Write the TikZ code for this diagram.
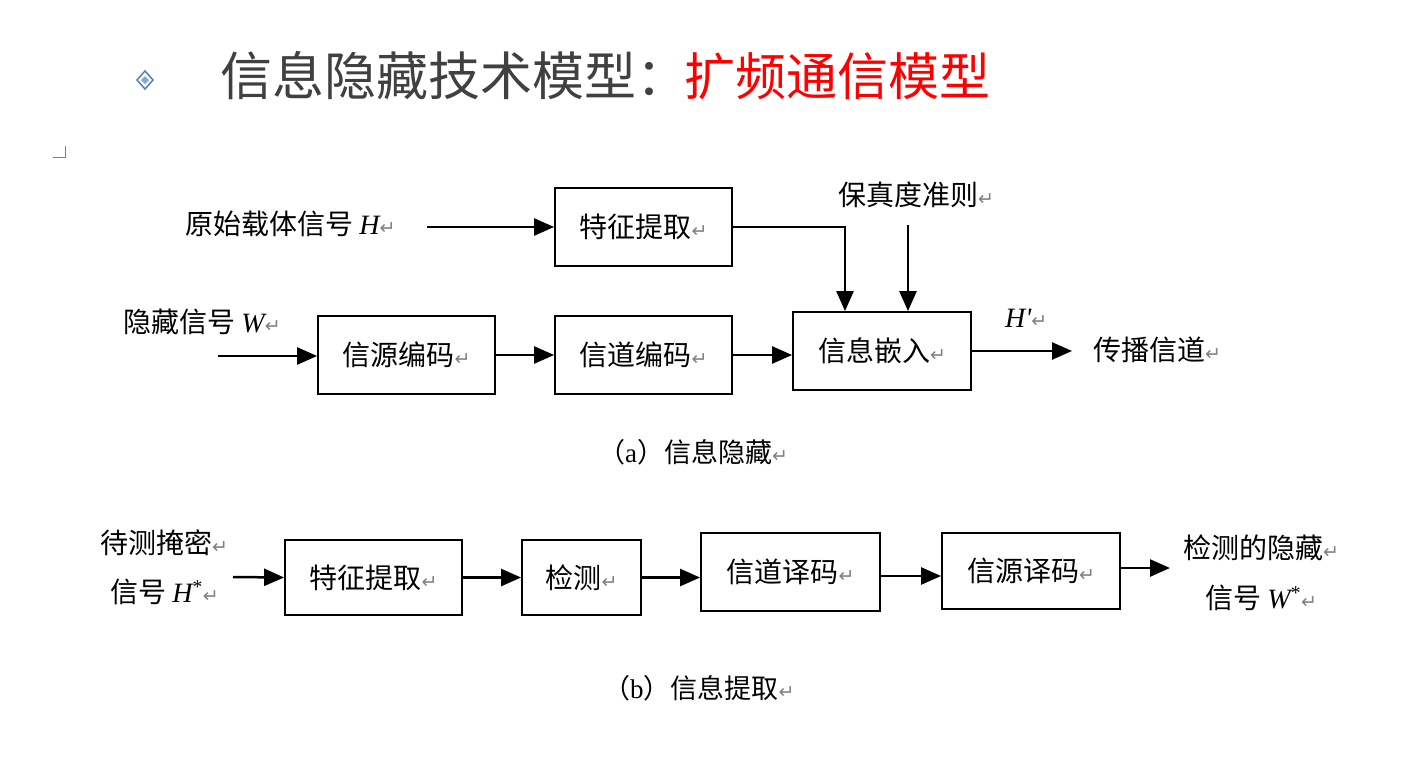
\documentclass[tikz,border=0pt]{standalone}
\usepackage{fontspec}
\usetikzlibrary{arrows.meta}
\newfontfamily\cjk{Noto Sans CJK SC}
\newfontfamily\lat{Liberation Serif}
\newfontfamily\sym{DejaVu Sans}
\newcommand\retm{{\sym\fontsize{19}{19}\selectfont\color{gray}↵}}
\newcommand\sig[1]{{\lat\itshape #1}}
\definecolor{ttlgray}{HTML}{404040}
\definecolor{bullet}{HTML}{4F81BD}
\begin{document}
\begin{tikzpicture}[x=1pt,y=-1pt,
  blk/.style={draw,line width=1.8pt,inner sep=0pt,font=\cjk\fontsize{28}{30}\selectfont},
  txt/.style={font=\cjk\fontsize{28}{30}\selectfont,inner sep=0pt},
  captxt/.style={font=\cjk\fontsize{27}{28}\selectfont,inner sep=0pt},
  arr/.style={line width=2.5pt,-{Triangle[length=20pt,width=17pt]}}]
\useasboundingbox (0,0) rectangle (1416,766);
% title
\draw[bullet,line width=1.5pt] (145,71) -- (153,80) -- (145,89) -- (137,80) -- cycle;
\fill[bullet!70] (145,76) -- (149,80) -- (145,84) -- (141,80) -- cycle;
\node[anchor=west,inner sep=0pt,text=ttlgray,font=\cjk\fontsize{52}{56}\selectfont] (ttl) at (220,76) {信息隐藏技术模型：};
\node[anchor=west,inner sep=0pt,text=red,font=\cjk\fontsize{51}{56}\selectfont] (ttl2) at ([xshift=-4pt]ttl.east) {扩频通信模型};
\draw[gray,line width=1pt] (53,157) -- (65,157) -- (65,146);

% (a) hiding
\node[txt,anchor=west] (hsrc) at (185,224) {原始载体信号 \sig{H}\retm};
\node[txt,anchor=west] (wsrc) at (123,322) {隐藏信号 \sig{W}\retm};
\node[txt,anchor=west] (bz) at (838,195) {保真度准则\retm};
\node[blk,minimum width=177pt,minimum height=78pt] (tz1) at (643.5,227) {特征提取\retm};
\node[blk,minimum width=177pt,minimum height=78pt] (xy) at (406.5,355) {信源编码\retm};
\node[blk,minimum width=177pt,minimum height=78pt] (xd) at (643.5,355) {信道编码\retm};
\node[blk,minimum width=178pt,minimum height=78pt] (qr) at (882,351) {信息嵌入\retm};
\node[txt,anchor=west] (hp) at (1005,318) {\sig{H'}\retm};
\node[txt,anchor=west] (cb) at (1093,350) {传播信道\retm};
\node[captxt,anchor=west] (capa) at (598,452) {（{\lat a}）信息隐藏\retm};
\coordinate (hin) at (427,227);
\coordinate (win) at (218,356);
\coordinate (bzin) at (908,225);
\coordinate (cbin) at (1072,351);

\draw[arr] (hin) -- (tz1.west);
\draw[arr] (win) -- (win -| xy.west);
\draw[arr] (xy.east) -- (xd.west);
\draw[arr] (xd.east) -- (xd.east -| qr.west);
\draw[arr] (tz1.east) -| ([xshift=-37pt]qr.north);
\draw[arr] (bzin) -- (bzin |- qr.north);
\draw[arr] (qr.east) -- (cbin);

% (b) extraction
\node[txt,anchor=west] (dc1) at (100,543) {待测掩密\retm};
\node[txt,anchor=west] (dc2) at (110,592) {信号 \sig{H}\textsuperscript{\lat *}\retm};
\node[blk,minimum width=177pt,minimum height=75pt] (tz2) at (373.5,577.5) {特征提取\retm};
\node[blk,minimum width=119pt,minimum height=75pt] (jc) at (581.5,577.5) {检测\retm};
\node[blk,minimum width=179pt,minimum height=78pt] (yd) at (790.5,572) {信道译码\retm};
\node[blk,minimum width=178pt,minimum height=76pt] (ym) at (1031,571) {信源译码\retm};
\node[txt,anchor=west] (out1) at (1183,548) {检测的隐藏\retm};
\node[txt,anchor=west] (out2) at (1205,598) {信号 \sig{W}\textsuperscript{\lat *}\retm};
\node[captxt,anchor=west] (capb) at (603,688) {（{\lat b}）信息提取\retm};
\coordinate (hsin) at (233,577);
\coordinate (wsout) at (1170,568);

\draw[arr] (hsin) -- (tz2.west);
\draw[arr] (tz2.east) -- (jc.west);
\draw[arr] (jc.east) -- (jc.east -| yd.west);
\draw[arr] ([yshift=-4pt]yd.east) -- ([yshift=-4pt]yd.east -| ym.west);
\draw[arr] (ym.east |- wsout) -- (wsout);
\end{tikzpicture}
\end{document}
